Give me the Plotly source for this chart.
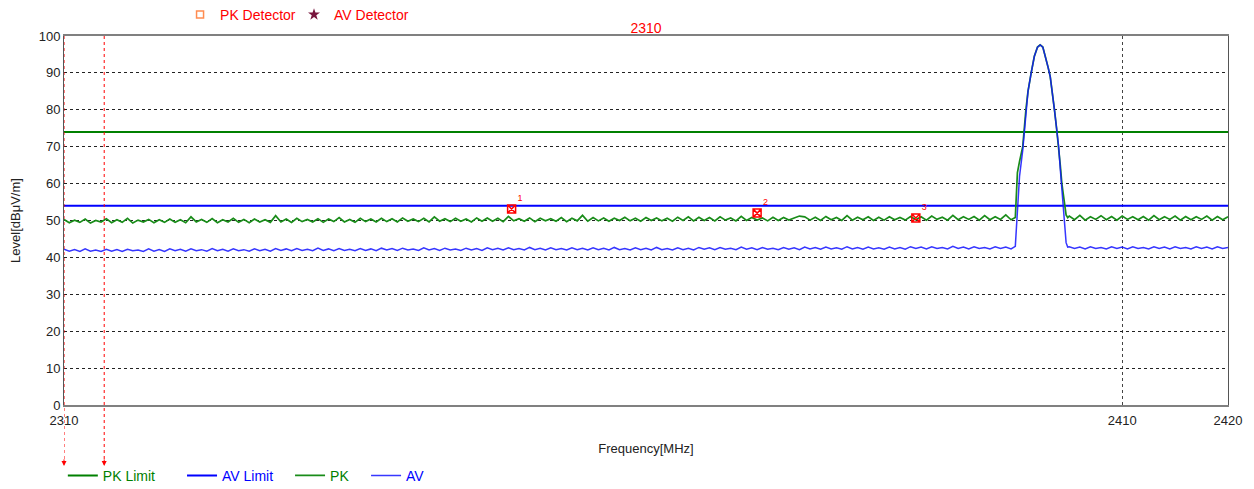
import numpy as np
import plotly.graph_objects as go

# ---------------- data ----------------
FREQ_START = 2310.0
FREQ_STEP = 0.5

pk_pre = [
    50.3, 49.4, 50.1, 49.5, 50.4, 49.3, 50.0, 49.6, 50.5, 49.4, 50.2, 49.5, 50.6, 49.3, 50.1, 49.6, 50.3, 49.4, 50.2, 49.5,
    50.4, 49.5, 50.2, 49.4, 51.0, 49.6, 50.3, 49.5, 50.5, 49.4, 50.2, 49.6, 50.6, 49.5, 50.3, 49.4, 50.4, 49.6, 50.2, 49.5,
    51.3, 49.6, 50.4, 49.5, 50.6, 49.7, 50.3, 49.6, 50.5, 49.5, 50.4, 49.7, 50.8, 49.6, 50.3, 49.5, 50.6, 49.7, 50.4, 49.6,
    50.6, 49.7, 50.5, 49.6, 50.7, 49.8, 50.4, 49.7, 50.6, 49.6, 51.0, 49.8, 50.5, 49.7, 50.6, 49.8, 50.4, 49.6, 50.7, 49.8,
    50.7, 49.8, 50.6, 49.7, 51.1, 49.9, 50.5, 49.8, 50.7, 49.7, 50.6, 49.9, 50.5, 49.8, 50.8, 49.7, 50.6, 49.9, 51.4, 49.8,
    50.8, 49.9, 50.7, 49.8, 50.6, 50.0, 50.9, 49.9, 50.6, 49.8, 50.8, 50.0, 50.7, 49.9, 50.6, 49.8, 50.9, 50.0, 51.0, 49.9,
    50.9, 50.0, 50.8, 49.9, 51.0, 50.1, 50.7, 49.9, 51.1, 50.0, 50.8, 50.1, 50.7, 49.9, 50.9, 50.0, 50.8, 50.1, 50.7, 51.2,
    51.0, 50.1, 50.9, 50.0, 51.1, 50.2, 50.8, 50.0, 51.3, 50.1, 50.9, 50.2, 51.0, 50.0, 50.9, 50.1, 51.0, 50.2, 50.8, 50.1,
    51.1, 50.2, 51.0, 50.1, 51.2, 50.3, 50.9, 50.1, 51.4, 50.2, 51.0, 50.3, 51.1, 50.1, 51.3, 50.2, 51.0, 50.3, 51.5, 50.2,
]
av_pre = [
    42.2, 41.7, 42.1, 41.6, 42.3, 41.7, 42.0, 41.6, 42.2, 41.7, 42.1, 41.6, 42.2, 41.8, 42.0, 41.6, 42.3, 41.7, 42.1, 41.6,
    42.3, 41.8, 42.2, 41.7, 42.3, 41.8, 42.1, 41.7, 42.4, 41.8, 42.2, 41.7, 42.3, 41.8, 42.1, 41.7, 42.3, 41.8, 42.2, 41.7,
    42.4, 41.9, 42.3, 41.8, 42.4, 41.9, 42.2, 41.8, 42.5, 41.9, 42.3, 41.8, 42.4, 41.9, 42.2, 41.8, 42.4, 41.9, 42.3, 41.8,
    42.5, 42.0, 42.4, 41.9, 42.5, 42.0, 42.3, 41.9, 42.6, 42.0, 42.4, 41.9, 42.5, 42.0, 42.3, 41.9, 42.5, 42.0, 42.4, 41.9,
    42.6, 42.1, 42.5, 42.0, 42.6, 42.1, 42.4, 42.0, 42.7, 42.1, 42.5, 42.0, 42.6, 42.1, 42.4, 42.0, 42.6, 42.1, 42.5, 42.0,
    42.6, 42.1, 42.5, 42.0, 42.7, 42.1, 42.4, 42.0, 42.6, 42.1, 42.5, 42.0, 42.7, 42.1, 42.4, 42.0, 42.6, 42.1, 42.5, 42.0,
    42.7, 42.2, 42.6, 42.1, 42.7, 42.2, 42.5, 42.1, 42.8, 42.2, 42.6, 42.1, 42.7, 42.2, 42.5, 42.1, 42.7, 42.2, 42.6, 42.1,
    42.8, 42.3, 42.7, 42.2, 42.8, 42.3, 42.6, 42.2, 42.9, 42.3, 42.7, 42.2, 42.8, 42.3, 42.6, 42.2, 42.8, 42.3, 42.7, 42.2,
    42.9, 42.4, 42.8, 42.3, 42.9, 42.4, 42.7, 42.3, 43.0, 42.4, 42.8, 42.3, 42.9, 42.4, 42.7, 42.3, 42.9, 42.4, 42.8, 42.3,
]

peak_freq = [2399.9, 2400.0, 2400.1, 2400.3, 2400.6, 2400.9, 2401.1, 2401.4, 2401.7, 2402.0, 2402.25, 2402.5,
             2402.8, 2403.0, 2403.2, 2403.4, 2403.6, 2403.8, 2404.0, 2404.15, 2404.3, 2404.5, 2404.7, 2404.85]
pk_peak = [50.8, 58.0, 63.0, 66.0, 70.0, 80.0, 85.0, 90.0, 94.5, 97.0, 97.6, 97.0,
           94.0, 91.5, 89.0, 85.0, 80.0, 75.0, 70.0, 65.0, 60.0, 55.0, 51.5, 50.8]
av_peak = [43.0, 48.0, 54.0, 62.0, 69.0, 79.5, 85.0, 90.0, 94.5, 97.0, 97.6, 97.0,
           94.0, 91.5, 89.0, 85.0, 80.0, 75.0, 70.0, 64.0, 58.0, 50.0, 44.0, 42.8]

POST_START = 2405.0
pk_post = [51.2, 50.2, 51.4, 50.1, 51.0, 50.3, 51.3, 50.2, 51.1, 50.1, 51.2, 50.3, 51.0, 50.2, 51.1, 50.1,
           51.3, 50.2, 51.0, 50.3, 51.2, 50.1, 51.1, 50.2, 51.0, 50.3, 51.2, 50.1, 51.1, 50.2, 51.0]
av_post = [42.9, 42.4, 42.8, 42.3, 42.9, 42.4, 42.7, 42.3, 42.9, 42.4, 42.8, 42.3, 42.9, 42.4, 42.7, 42.3,
           42.9, 42.4, 42.8, 42.3, 42.9, 42.4, 42.7, 42.3, 42.9, 42.4, 42.8, 42.3, 42.9, 42.4, 42.7]

pk_limit = 74
av_limit = 54

marker_freq = [2352.3, 2375.5, 2390.5]
marker_level = [53.1, 52.0, 50.7]
marker_labels = ["1", "2", "3"]

cursor_freq = [2310.0, 2313.8]

x_range = [2310, 2420]
x_ticks = [2310, 2410, 2420]
y_ticks = list(range(0, 101, 10))
title_text = "2310"

# ---------------- build ----------------
freq_pre = FREQ_START + FREQ_STEP * np.arange(len(pk_pre))
freq_post = POST_START + FREQ_STEP * np.arange(len(pk_post))
freq = np.concatenate([freq_pre, peak_freq, freq_post])
pk = np.concatenate([pk_pre, pk_peak, pk_post])
av = np.concatenate([av_pre, av_peak, av_post])

GREEN = "rgb(0,128,0)"
BLUE = "rgb(0,0,255)"
PK_GREEN = "rgb(25,140,25)"
AV_BLUE = "rgb(20,20,255)"
RED = "rgb(255,0,0)"
FONT = "Arial, Liberation Sans, sans-serif"

fig = go.Figure()

fig.add_trace(go.Scatter(x=x_range, y=[pk_limit, pk_limit], mode="lines", name="PK Limit",
                         line=dict(color=GREEN, width=2), legend="legend"))
fig.add_trace(go.Scatter(x=x_range, y=[av_limit, av_limit], mode="lines", name="AV Limit",
                         line=dict(color=BLUE, width=2), legend="legend2"))
fig.add_trace(go.Scatter(x=freq, y=pk, mode="lines", name="PK",
                         line=dict(color=PK_GREEN, width=1.7), legend="legend3"))
fig.add_trace(go.Scatter(x=freq, y=av, mode="lines", name="AV",
                         line=dict(color=AV_BLUE, width=1.5), opacity=0.85, legend="legend4"))
fig.add_trace(go.Scatter(x=marker_freq, y=marker_level, mode="markers+text", text=marker_labels,
                         textposition="top right", textfont=dict(color=RED, size=9, family=FONT),
                         marker=dict(symbol="square-x-open", color=RED, size=8, line=dict(width=1.5)),
                         showlegend=False, cliponaxis=False))
# detector legend entries
fig.add_trace(go.Scatter(x=[None], y=[None], mode="markers", name="PK Detector",
                         marker=dict(symbol="square-open", color="rgb(255,140,80)", size=7, line=dict(width=1.5)),
                         legend="legend5"))
fig.add_trace(go.Scatter(x=[None], y=[None], mode="markers", name="AV Detector",
                         marker=dict(symbol="star", color="rgb(120,20,60)", size=9),
                         legend="legend6"))

# cursor lines
for cf in cursor_freq:
    fig.add_shape(type="line", xref="x", yref="paper", x0=cf, x1=cf, y0=1, y1=-0.16,
                  line=dict(color=RED, width=1, dash="dot"), layer="above")
    fig.add_annotation(x=cf, y=-0.165, xref="x", yref="paper", text="", showarrow=True,
                       ax=0, ay=-8, arrowhead=2, arrowsize=1, arrowwidth=1, arrowcolor=RED)

def leg(x, y, color):
    return dict(x=x, y=y, xanchor="left", yanchor="middle", orientation="h",
                font=dict(family=FONT, size=14, color=color), bgcolor="rgba(0,0,0,0)",
                borderwidth=0, itemwidth=30)

# the page adds an 8px body margin, so the figure is sized 8px smaller
W, H = 1246, 481
fig.update_layout(
    width=W, height=H,
    margin=dict(l=56, r=26, t=28, b=84, autoexpand=False),
    paper_bgcolor="white", plot_bgcolor="white",
    title=dict(text=title_text, xref="paper", x=0.5, xanchor="center", y=1 - 20 / H, yanchor="middle",
               font=dict(family=FONT, size=14, color=RED)),
    legend=leg(-0.001, -0.192, GREEN),
    legend2=leg(0.1014, -0.192, BLUE),
    legend3=leg(0.1942, -0.192, GREEN),
    legend4=leg(0.2595, -0.192, BLUE),
    legend5=leg(0.0997, 1.057, RED),
    legend6=leg(0.1976, 1.057, RED),
    xaxis=dict(range=x_range, tickmode="array", tickvals=x_ticks, ticktext=[str(t) for t in x_ticks],
               showgrid=False, zeroline=False, ticks="", ticklabelstandoff=2,
               showline=True, linecolor="#808080", linewidth=2, mirror=True,
               tickfont=dict(family=FONT, size=13, color="#222"),
               minor=dict(tickvals=[2410], showgrid=True, gridcolor="#444", griddash="dot", gridwidth=1, ticks=""),
               title=dict(text="Frequency[MHz]", font=dict(family=FONT, size=13, color="#222"), standoff=17),
               automargin=False),
    yaxis=dict(range=[0, 100], tickmode="array", tickvals=y_ticks, showgrid=True,
               gridcolor="#222", griddash="dot", gridwidth=1, zeroline=False, ticks="",
               showline=True, linecolor="#555", linewidth=1, mirror=True,
               tickfont=dict(family=FONT, size=13, color="#222"),
               title=dict(text="Level[dBμV/m]", font=dict(family=FONT, size=13, color="#222"), standoff=18),
               automargin=False),
)

fig.write_html("out.html")
